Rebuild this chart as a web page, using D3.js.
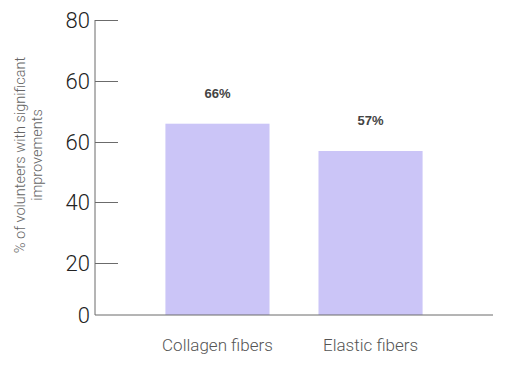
<!DOCTYPE html>
<html>
<head>
<meta charset="utf-8">
<script src="https://cdn.jsdelivr.net/npm/d3@7"></script>
<style>
  body { margin: 0; background: #fff; }
  svg { display: block; font-family: Roboto, "Liberation Sans", Arial, sans-serif; }
</style>
</head>
<body>
<svg id="chart"></svg>
<script>
// data
const categories = ["Collagen fibers", "Elastic fibers"];
const values = [66, 57];
const valueLabels = ["66%", "57%"];
// the reference axis repeats "60"; keep its labels as drawn
const tickValues = [0, 20, 40, 60, 80, 100];
const tickLabels = ["0", "20", "40", "60", "60", "80"];

const width = 519, height = 376;
const svg = d3.select("#chart").attr("width", width).attr("height", height);

const axisX = 95, baseY = 315, right = 493;

// piecewise scale so the ticks sit where the reference has them
const y = d3.scaleLinear()
  .domain(tickValues)
  .range([baseY, 263, 202, 142, 81, 20]);

const x = d3.scaleBand()
  .domain(categories)
  .range([axisX, right])
  .paddingInner(0.32)
  .paddingOuter(0.46);

const axisColor = "#6b6b6b";

// bars
svg.selectAll(".bar")
  .data(categories)
  .join("rect")
  .attr("class", "bar")
  .attr("x", d => x(d))
  .attr("width", x.bandwidth())
  .attr("y", (d, i) => y(values[i]))
  .attr("height", (d, i) => baseY - y(values[i]))
  .attr("fill", "#cbc5f7");

// value labels
svg.selectAll(".val")
  .data(categories)
  .join("text")
  .attr("class", "val")
  .attr("x", d => x(d) + x.bandwidth() / 2)
  .attr("y", (d, i) => y(values[i]) - 26)
  .attr("text-anchor", "middle")
  .attr("font-family", "'Liberation Sans', Arial, sans-serif")
  .attr("font-size", 13)
  .attr("font-weight", "bold")
  .attr("fill", "#444")
  .text((d, i) => valueLabels[i]);

// y axis: ticks point inward
const yAxis = d3.axisRight(y)
  .tickValues(tickValues.slice(1))
  .tickSize(23)
  .tickFormat("");
const yG = svg.append("g").attr("transform", `translate(${axisX},0)`).call(yAxis);
yG.select(".domain").remove();
yG.selectAll(".tick line").attr("stroke", axisColor);

svg.append("line")
  .attr("x1", axisX).attr("x2", axisX)
  .attr("y1", y(100)).attr("y2", baseY)
  .attr("stroke", axisColor);
svg.append("line")
  .attr("x1", axisX).attr("x2", right)
  .attr("y1", baseY).attr("y2", baseY)
  .attr("stroke", axisColor);

// y tick labels
svg.selectAll(".ylab")
  .data(tickValues)
  .join("text")
  .attr("class", "ylab")
  .attr("x", 90)
  .attr("y", d => y(d))
  .attr("dy", "0.36em")
  .attr("text-anchor", "end")
  .attr("font-size", 22)
  .attr("font-weight", 300)
  .attr("fill", "#222")
  .text((d, i) => tickLabels[i]);

// x category labels
svg.selectAll(".xlab")
  .data(categories)
  .join("text")
  .attr("class", "xlab")
  .attr("x", d => x(d) + x.bandwidth() / 2)
  .attr("y", 351)
  .attr("text-anchor", "middle")
  .attr("font-size", 17)
  .attr("font-weight", 300)
  .attr("fill", "#555")
  .text(d => d);

// y axis title
const title = svg.append("text")
  .attr("transform", "translate(25,155) rotate(-90)")
  .attr("text-anchor", "middle")
  .attr("font-size", 14.5)
  .attr("font-weight", 300)
  .attr("fill", "#666");
title.append("tspan").attr("x", 0).attr("dy", 0).text("% of volunteers with significant");
title.append("tspan").attr("x", 0).attr("dy", "1.2em").text("improvements");
</script>
</body>
</html>
